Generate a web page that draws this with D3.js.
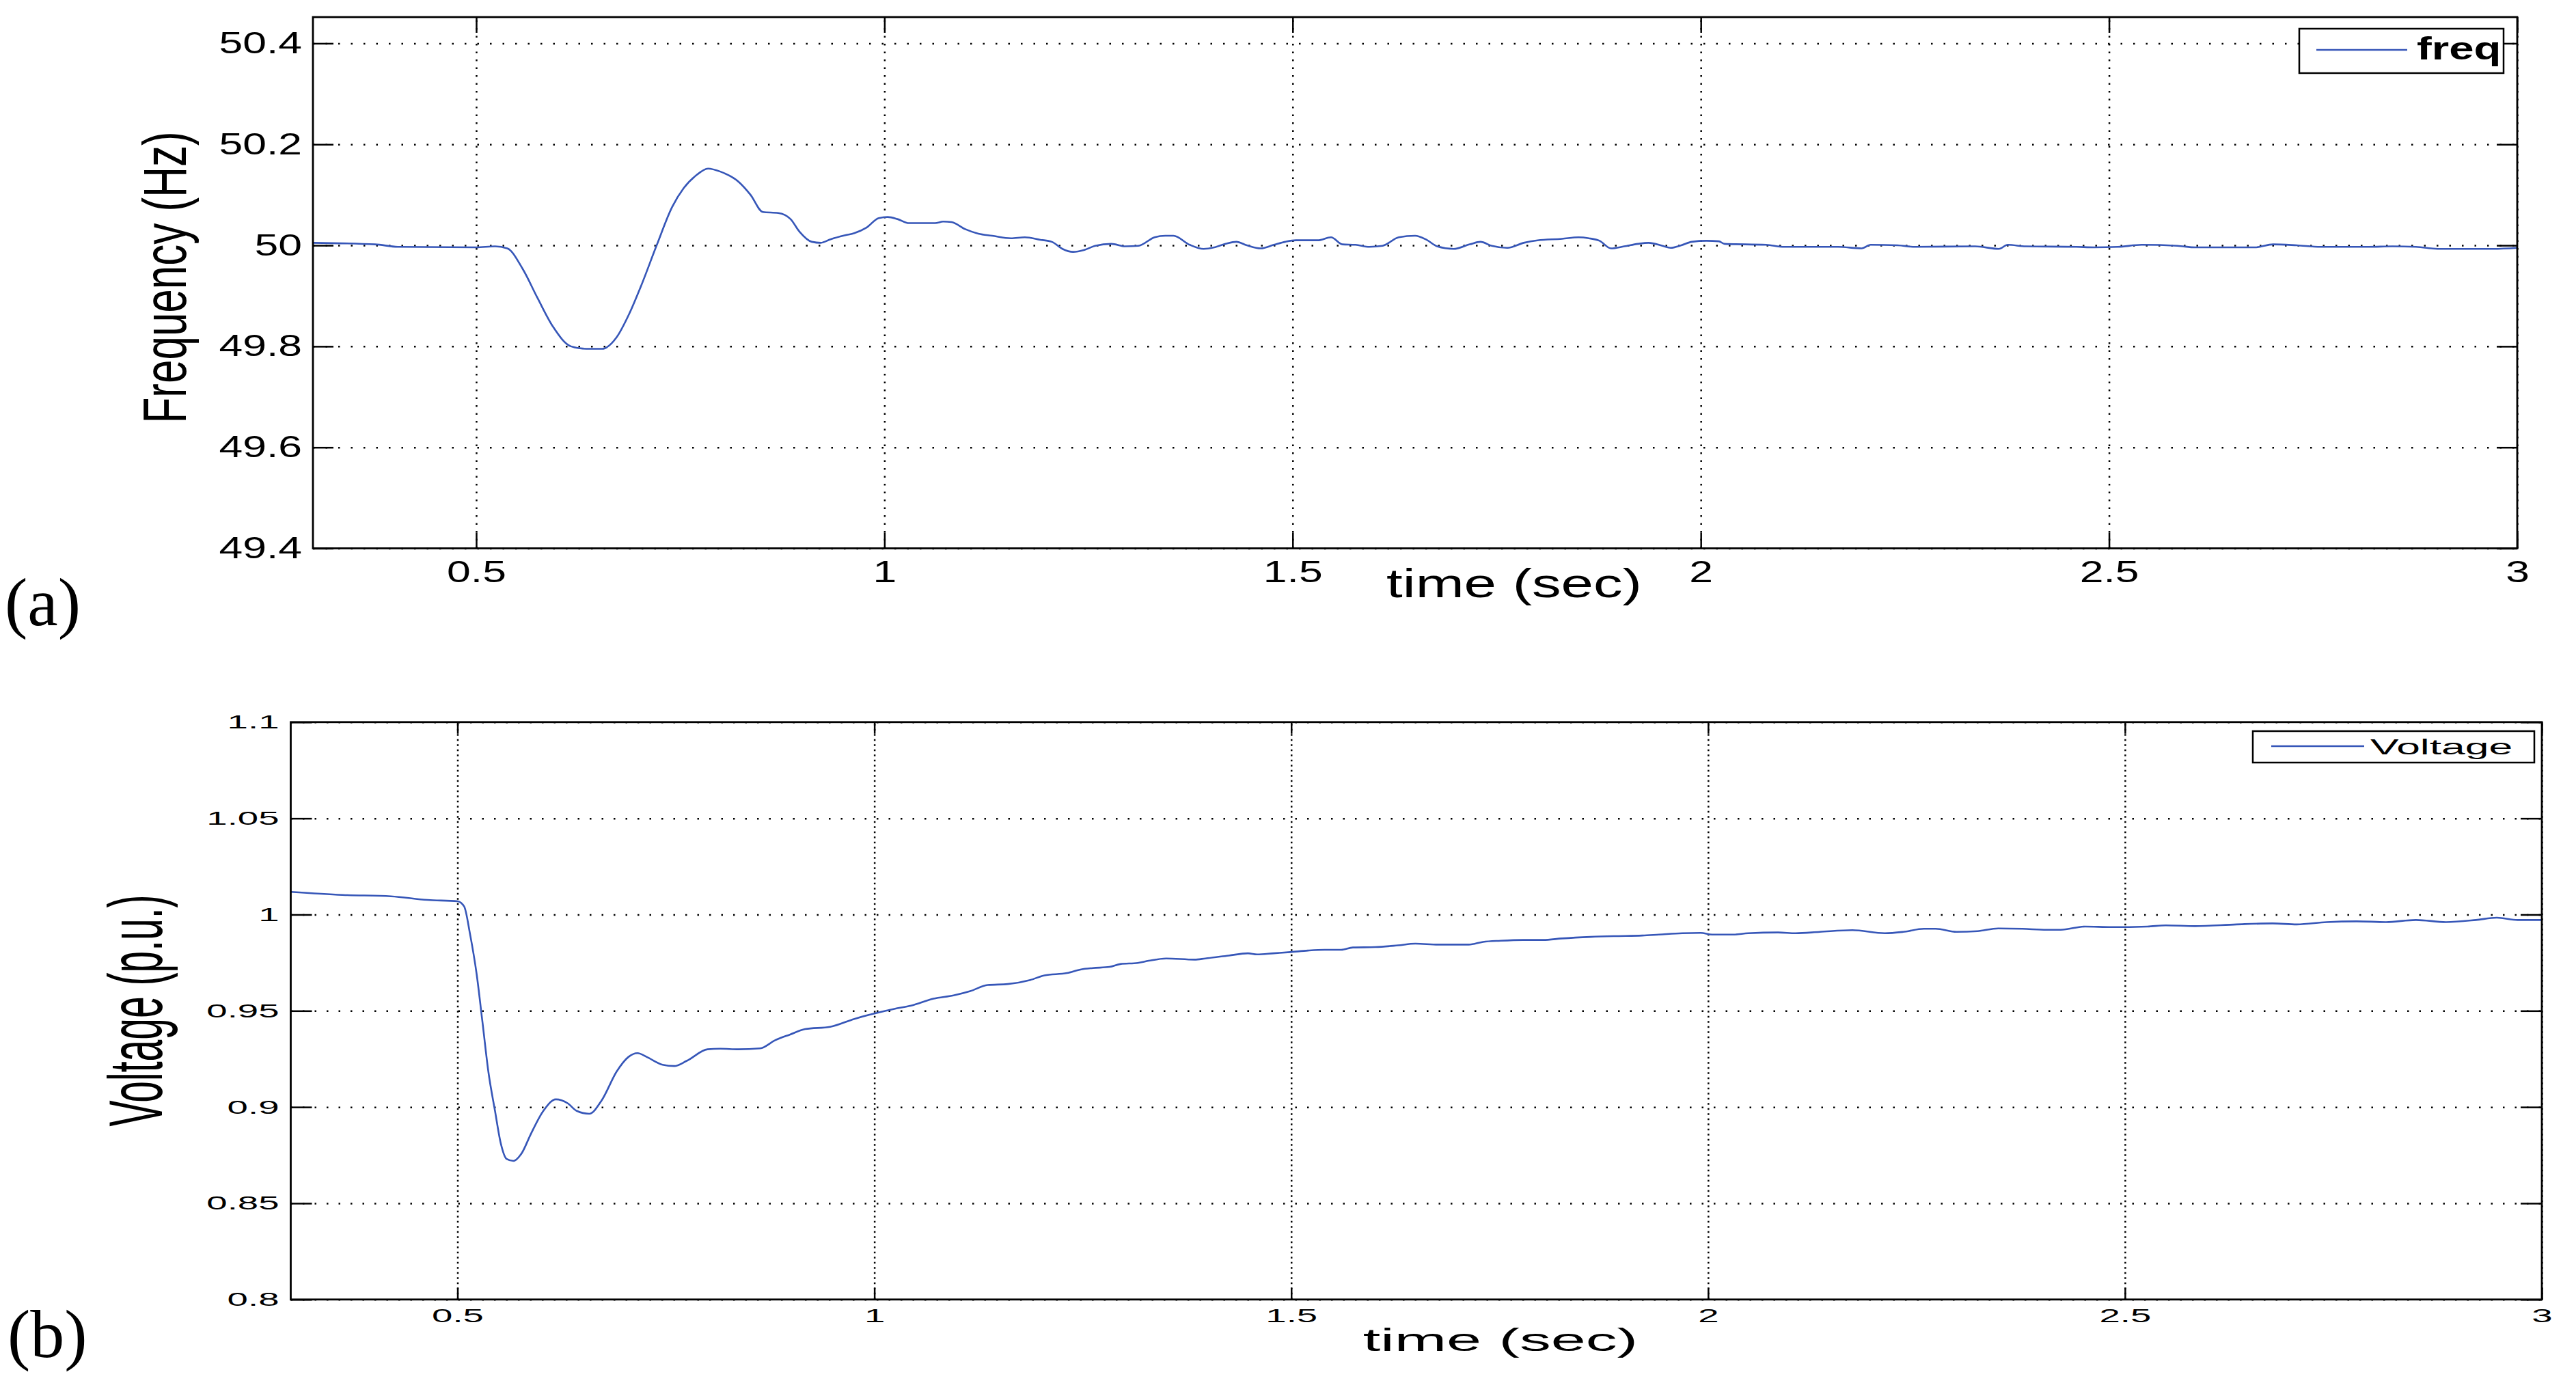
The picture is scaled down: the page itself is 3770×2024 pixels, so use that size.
<!DOCTYPE html>
<html>
<head>
<meta charset="utf-8">
<script src="https://cdn.jsdelivr.net/npm/d3@7"></script>
<style>
  body { margin: 0; background: #fff; }
  text { font-family: 'Liberation Sans', Arial, sans-serif; fill: #000; }
</style>
</head>
<body>
<div id="container"></div>
<script>
// tick labels
const timeTicks = [0.5, 1, 1.5, 2, 2.5, 3];
const freqTicks = [49.4, 49.6, 49.8, 50, 50.2, 50.4];
const voltTicks = [0.8, 0.85, 0.9, 0.95, 1, 1.05, 1.1];

// (a) frequency
const freqTime = [0.300, 0.376, 0.404, 0.500, 0.523, 0.538, 0.557, 0.575, 0.594, 0.616,
    0.635, 0.654, 0.672, 0.687, 0.702, 0.721, 0.740, 0.754, 0.769, 0.784,
    0.799, 0.822, 0.836, 0.851, 0.870, 0.885, 0.896, 0.911, 0.922, 0.934,
    0.952, 0.963, 0.978, 0.993, 1.004, 1.016, 1.030, 1.062, 1.072, 1.082,
    1.099, 1.115, 1.132, 1.155, 1.172, 1.191, 1.205, 1.218, 1.231, 1.245,
    1.258, 1.278, 1.295, 1.311, 1.331, 1.344, 1.354, 1.374, 1.391, 1.404,
    1.418, 1.431, 1.444, 1.461, 1.477, 1.491, 1.504, 1.531, 1.547, 1.561,
    1.577, 1.594, 1.610, 1.630, 1.650, 1.664, 1.677, 1.697, 1.717, 1.730,
    1.744, 1.763, 1.783, 1.800, 1.830, 1.850, 1.863, 1.876, 1.890, 1.906,
    1.923, 1.936, 1.953, 1.963, 1.976, 1.989, 2.007, 2.022, 2.029, 2.080,
    2.102, 2.168, 2.197, 2.208, 2.241, 2.263, 2.336, 2.365, 2.376, 2.398,
    2.460, 2.482, 2.511, 2.540, 2.584, 2.606, 2.679, 2.701, 2.730, 2.759,
    2.818, 2.847, 2.876, 2.905, 2.971, 3.000];
const freqValues = [50.005, 50.002, 49.997, 49.996, 49.998, 49.994, 49.953, 49.896, 49.839, 49.800,
    49.795, 49.795, 49.818, 49.863, 49.920, 50.000, 50.076, 50.113, 50.138, 50.152,
    50.146, 50.125, 50.100, 50.066, 50.064, 50.052, 50.027, 50.007, 50.005, 50.012,
    50.020, 50.024, 50.035, 50.054, 50.056, 50.052, 50.044, 50.044, 50.047, 50.046,
    50.032, 50.023, 50.019, 50.014, 50.016, 50.011, 50.007, 49.993, 49.987, 49.991,
    49.999, 50.003, 49.998, 49.999, 50.016, 50.019, 50.019, 50.001, 49.993, 49.996,
    50.003, 50.007, 50.000, 49.994, 50.001, 50.007, 50.010, 50.010, 50.016, 50.002,
    50.001, 49.997, 49.999, 50.016, 50.019, 50.011, 49.998, 49.993, 50.002, 50.007,
    49.999, 49.995, 50.005, 50.010, 50.013, 50.016, 50.014, 50.009, 49.994, 49.998,
    50.003, 50.005, 49.999, 49.995, 50.000, 50.007, 50.009, 50.008, 50.003, 50.001,
    49.997, 49.997, 49.994, 50.001, 50.000, 49.997, 49.998, 49.993, 50.001, 49.998,
    49.997, 49.996, 49.997, 50.001, 49.999, 49.996, 49.996, 50.002, 50.000, 49.997,
    49.997, 49.998, 49.997, 49.993, 49.993, 49.995];

// (b) voltage
const voltTime = [0.300, 0.362, 0.420, 0.464, 0.500, 0.508, 0.515, 0.523, 0.530, 0.537,
    0.545, 0.552, 0.559, 0.567, 0.577, 0.588, 0.603, 0.618, 0.632, 0.643,
    0.658, 0.673, 0.691, 0.705, 0.716, 0.727, 0.746, 0.760, 0.775, 0.800,
    0.815, 0.837, 0.863, 0.881, 0.899, 0.917, 0.947, 0.976, 1.000, 1.024,
    1.044, 1.071, 1.095, 1.115, 1.136, 1.160, 1.187, 1.204, 1.231, 1.248,
    1.262, 1.282, 1.295, 1.316, 1.329, 1.350, 1.384, 1.397, 1.425, 1.448,
    1.459, 1.479, 1.499, 1.520, 1.540, 1.560, 1.574, 1.601, 1.628, 1.649,
    1.676, 1.713, 1.730, 1.751, 1.778, 1.802, 1.825, 1.859, 1.887, 1.921,
    1.941, 1.969, 1.991, 2.005, 2.030, 2.048, 2.084, 2.105, 2.134, 2.173,
    2.212, 2.234, 2.259, 2.273, 2.298, 2.323, 2.348, 2.377, 2.406, 2.423,
    2.452, 2.484, 2.527, 2.549, 2.584, 2.634, 2.677, 2.706, 2.742, 2.778,
    2.813, 2.849, 2.885, 2.921, 2.946, 2.971, 3.000];
const voltValues = [1.0118, 1.0102, 1.0095, 1.0076, 1.0069, 1.0042, 0.9900, 0.9690, 0.9440, 0.9185,
    0.8980, 0.8810, 0.8730, 0.8720, 0.8760, 0.8860, 0.8980, 0.9040, 0.9020, 0.8980,
    0.8965, 0.9035, 0.9185, 0.9260, 0.9280, 0.9260, 0.9220, 0.9213, 0.9240, 0.9300,
    0.9303, 0.9300, 0.9305, 0.9347, 0.9377, 0.9405, 0.9417, 0.9458, 0.9486, 0.9510,
    0.9527, 0.9563, 0.9580, 0.9602, 0.9634, 0.9639, 0.9660, 0.9684, 0.9696, 0.9715,
    0.9722, 0.9728, 0.9743, 0.9749, 0.9760, 0.9772, 0.9766, 0.9772, 0.9787, 0.9799,
    0.9793, 0.9799, 0.9805, 0.9813, 0.9817, 0.9817, 0.9829, 0.9831, 0.9840, 0.9849,
    0.9844, 0.9844, 0.9858, 0.9864, 0.9868, 0.9868, 0.9876, 0.9884, 0.9888, 0.9891,
    0.9896, 0.9903, 0.9905, 0.9896, 0.9896, 0.9903, 0.9907, 0.9903, 0.9910, 0.9919,
    0.9903, 0.9910, 0.9926, 0.9926, 0.9910, 0.9914, 0.9928, 0.9926, 0.9921, 0.9921,
    0.9938, 0.9935, 0.9938, 0.9944, 0.9940, 0.9949, 0.9954, 0.9949, 0.9961, 0.9965,
    0.9961, 0.9972, 0.9961, 0.9972, 0.9984, 0.9972, 0.9972];

const lineColor = '#3656b8';

const svg = d3.select('#container').append('svg')
    .attr('width', 3770)
    .attr('height', 2024)
    .style('display', 'block');
svg.append('rect').attr('width', 3770).attr('height', 2024).attr('fill', '#fff');

function drawPanel(cfg) {
    const g = svg.append('g');
    const x = d3.scaleLinear().domain([0.3, 3]).range([cfg.left, cfg.right]);
    const y = d3.scaleLinear().domain(cfg.yDomain).range([cfg.bottom, cfg.top]);
    const w = cfg.right - cfg.left;
    const h = cfg.bottom - cfg.top;

    // dotted grid
    g.append('g')
        .attr('transform', `translate(0,${cfg.bottom})`)
        .call(d3.axisBottom(x).tickValues(timeTicks).tickSize(-h).tickFormat(''))
        .call(a => a.select('.domain').remove())
        .selectAll('line')
        .attr('stroke-width', 2.5)
        .attr('stroke-dasharray', cfg.vDash);
    g.append('g')
        .attr('transform', `translate(${cfg.left},0)`)
        .call(d3.axisLeft(y).tickValues(cfg.yTicks).tickSize(-w).tickFormat(''))
        .call(a => a.select('.domain').remove())
        .selectAll('line')
        .attr('stroke-width', 2.5)
        .attr('stroke-dasharray', cfg.hDash);

    // data line
    const line = d3.line()
        .x(d => x(d[0]))
        .y(d => y(d[1]))
        .curve(d3.curveMonotoneX);
    g.append('path')
        .datum(d3.zip(cfg.t, cfg.v))
        .attr('d', line)
        .attr('fill', 'none')
        .attr('stroke', lineColor)
        .attr('stroke-width', 2.6);

    // axes with inward ticks on all four sides
    const xb = g.append('g')
        .attr('transform', `translate(0,${cfg.bottom})`)
        .call(d3.axisBottom(x).tickValues(timeTicks).tickSizeInner(-cfg.xTickLen)
            .tickSizeOuter(0).tickPadding(cfg.xPad).tickFormat(d => String(d)));
    xb.select('.domain').remove();
    xb.selectAll('line').attr('stroke-width', 2.5);
    xb.selectAll('text')
        .attr('font-size', cfg.tickFont)
        .attr('font-family', "'Liberation Sans', Arial, sans-serif")
        .attr('transform', `scale(${cfg.sx},1)`);

    const xt = g.append('g')
        .attr('transform', `translate(0,${cfg.top})`)
        .call(d3.axisTop(x).tickValues(timeTicks).tickSizeInner(-cfg.xTickLen)
            .tickSizeOuter(0).tickFormat(''));
    xt.select('.domain').remove();
    xt.selectAll('line').attr('stroke-width', 2.5);

    const yl = g.append('g')
        .attr('transform', `translate(${cfg.left},0)`)
        .call(d3.axisLeft(y).tickValues(cfg.yTicks).tickSizeInner(-cfg.yTickLen)
            .tickSizeOuter(0).tickFormat(d => String(d)));
    yl.select('.domain').remove();
    yl.selectAll('line').attr('stroke-width', 2.5);
    yl.selectAll('text')
        .attr('font-size', cfg.tickFont)
        .attr('font-family', "'Liberation Sans', Arial, sans-serif")
        .attr('x', -cfg.yPad / cfg.sx)
        .attr('transform', `scale(${cfg.sx},1)`);

    const yr = g.append('g')
        .attr('transform', `translate(${cfg.right},0)`)
        .call(d3.axisRight(y).tickValues(cfg.yTicks).tickSizeInner(-cfg.yTickLen)
            .tickSizeOuter(0).tickFormat(''));
    yr.select('.domain').remove();
    yr.selectAll('line').attr('stroke-width', 2.5);

    // frame
    g.append('rect')
        .attr('x', cfg.left).attr('y', cfg.top)
        .attr('width', w).attr('height', h)
        .attr('fill', 'none')
        .attr('stroke', '#000')
        .attr('stroke-width', 2.8);

    // axis titles
    g.append('text')
        .attr('transform', `translate(${cfg.xLabel[0]},${cfg.xLabel[1]}) scale(${cfg.sx},1)`)
        .attr('text-anchor', 'middle')
        .attr('font-size', cfg.xLabelFont)
        .text('time (sec)');
    g.append('text')
        .attr('transform', `translate(${cfg.yLabel[0]},${cfg.yLabel[1]}) scale(${cfg.sx},1) rotate(-90)`)
        .attr('text-anchor', 'middle')
        .attr('dy', '0.26em')
        .attr('font-size', cfg.yLabelFont)
        .text(cfg.yTitle);

    // legend
    const lg = cfg.legend;
    g.append('rect')
        .attr('x', lg.x0).attr('y', lg.y0)
        .attr('width', lg.x1 - lg.x0).attr('height', lg.y1 - lg.y0)
        .attr('fill', '#fff')
        .attr('stroke', '#000')
        .attr('stroke-width', 2.5);
    g.append('line')
        .attr('x1', lg.lx0).attr('x2', lg.lx1)
        .attr('y1', lg.ly).attr('y2', lg.ly)
        .attr('stroke', lineColor)
        .attr('stroke-width', 2.6);
    g.append('text')
        .attr('transform', `translate(${lg.tx},${lg.ty}) scale(${cfg.sx},1)`)
        .attr('font-size', lg.font)
        .attr('font-weight', lg.bold ? 'bold' : 'normal')
        .text(cfg.name);

    // panel tag
    g.append('text')
        .attr('x', cfg.tag[0]).attr('y', cfg.tag[1])
        .attr('font-family', "'Liberation Serif', 'Times New Roman', serif")
        .style('font-family', "'Liberation Serif', 'Times New Roman', serif")
        .attr('font-size', 100)
        .text(cfg.tagText);
}

drawPanel({
    left: 458, right: 3684, top: 25, bottom: 802.5,
    yDomain: [49.4, 50.452], yTicks: freqTicks,
    t: freqTime, v: freqValues,
    vDash: '2.5,9', hDash: '2.5,16',
    xTickLen: 23, yTickLen: 30,
    tickFont: 44, sx: 1.42, xPad: 18, yPad: 16,
    xLabel: [2216, 874], xLabelFont: 60,
    yLabel: [249, 406], yLabelFont: 62, yTitle: 'Frequency (Hz)',
    name: 'freq',
    legend: { x0: 3365, x1: 3664, y0: 42, y1: 107, lx0: 3390, lx1: 3523, ly: 73,
        tx: 3537, ty: 87, font: 46, bold: true },
    tag: [7, 915], tagText: '(a)'
});

drawPanel({
    left: 425.5, right: 3720, top: 1056.8, bottom: 1901.8,
    yDomain: [0.8, 1.1], yTicks: voltTicks,
    t: voltTime, v: voltValues,
    vDash: '2.5,5', hDash: '2.5,15',
    xTickLen: 17, yTickLen: 31,
    tickFont: 28, sx: 1.95, xPad: 13, yPad: 17,
    xLabel: [2196, 1977], xLabelFont: 47,
    yLabel: [208, 1479], yLabelFont: 57, yTitle: 'Voltage (p.u.)',
    name: 'Voltage',
    legend: { x0: 3297, x1: 3709, y0: 1070, y1: 1116, lx0: 3324, lx1: 3460, ly: 1092,
        tx: 3469, ty: 1104, font: 32, bold: false },
    tag: [11, 1986], tagText: '(b)'
});
</script>
</body>
</html>
